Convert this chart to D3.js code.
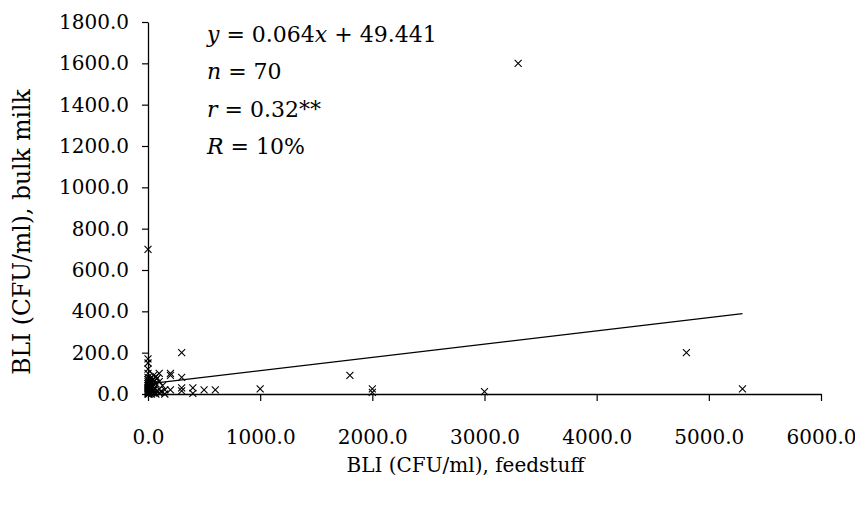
<!DOCTYPE html>
<html>
<head>
<meta charset="utf-8">
<script src="https://cdn.jsdelivr.net/npm/d3@7"></script>
<style>
  body { margin: 0; background: #fff; }
  svg text { font-family: "DejaVu Serif", serif; fill: #000; }
</style>
</head>
<body>
<svg id="drawing_region"></svg>
<script>
// BLI in feedstuff (x) vs BLI in bulk milk (y), CFU/ml
var feedX = [
  3300, 0, 4800, 5300, 1800, 2000, 2000, 3000, 1000, 600, 500, 400, 400, 300, 300, 300, 300,
  200, 200, 200, 100, 50, 0, 0, 0, 0, 0,
  0, 0, 0, 0, 0, 0, 0, 0, 0, 0, 0,
  5, 5, 10, 10, 10, 15, 20, 20, 20, 25, 30, 30, 30, 40, 40, 50, 50, 50, 60, 60, 70, 70,
  80, 80, 100, 100, 100, 120, 130, 150, 150, 70
];
var milkY = [
  1600, 700, 200, 25, 90, 25, 8, 12, 25, 20, 20, 30, 3, 30, 15, 80, 200,
  20, 100, 90, 100, 90, 170, 150, 120, 100, 80,
  0, 5, 10, 15, 20, 25, 30, 40, 50, 60, 70,
  0, 35, 10, 45, 65, 5, 20, 55, 75, 30, 0, 40, 60, 10, 70, 20, 45, 5, 30, 65, 0, 50,
  15, 75, 5, 25, 60, 10, 40, 0, 20, 85
];
var xTicks = [0, 1000, 2000, 3000, 4000, 5000, 6000];
var yTicks = [0, 200, 400, 600, 800, 1000, 1200, 1400, 1600, 1800];
var slope = 0.064, intercept = 49.441;
var statLines = [
  [["y", true], [" = 0.064", false], ["x", true], [" + 49.441", false]],
  [["n", true], [" = 70", false]],
  [["r", true], [" = 0.32**", false]],
  [["R", true], [" = 10%", false]]
];

var config = {
  width: 855, height: 508,
  margin: {top: 22, right: 34, bottom: 114, left: 148}
};

var svg = d3.select('#drawing_region')
    .attr('width', config.width)
    .attr('height', config.height);
var iw = config.width - config.margin.left - config.margin.right;
var ih = config.height - config.margin.top - config.margin.bottom;
var chart = svg.append('g')
    .attr('transform', `translate(${config.margin.left}, ${config.margin.top})`);

var xscale = d3.scaleLinear().domain([0, 6000]).range([0, iw]);
var yscale = d3.scaleLinear().domain([0, 1800]).range([ih, 0]);

var xaxis = d3.axisBottom(xscale).tickValues(xTicks).tickFormat(d3.format('.1f'))
    .tickSizeInner(7).tickSizeOuter(0).tickPadding(29);
var yaxis = d3.axisLeft(yscale).tickValues(yTicks).tickFormat(d3.format('.1f'))
    .tickSizeInner(6).tickSizeOuter(0).tickPadding(13);

var xg = chart.append('g').attr('transform', `translate(0, ${ih})`).call(xaxis);
var yg = chart.append('g').call(yaxis);
[xg, yg].forEach(g => {
  g.select('.domain').attr('stroke', '#000').attr('stroke-width', 1.3);
  g.selectAll('.tick line').attr('stroke', '#000').attr('stroke-width', 1.2);
  g.selectAll('.tick text').attr('font-family', '"DejaVu Serif", serif').attr('font-size', 20).attr('fill', '#000');
});

// trend line
var ext = d3.extent(feedX);
var line = d3.line().x(d => xscale(d)).y(d => yscale(slope * d + intercept));
chart.append('path')
    .attr('d', line(ext))
    .attr('stroke', '#000').attr('stroke-width', 1.3).attr('fill', 'none');

// markers
var s = 3.5;
chart.selectAll('.pt').data(feedX).join('path')
    .attr('class', 'pt')
    .attr('d', (d, i) => {
      var cx = xscale(d), cy = yscale(milkY[i]);
      return `M${cx - s},${cy - s}L${cx + s},${cy + s}M${cx - s},${cy + s}L${cx + s},${cy - s}`;
    })
    .attr('stroke', '#000').attr('stroke-width', 1.1).attr('fill', 'none');

// statistics
var stats = svg.append('g').attr('font-size', 22);
statLines.forEach((parts, i) => {
  var t = stats.append('text').attr('x', 207).attr('y', 42 + i * 37.3).attr('xml:space', 'preserve');
  parts.forEach(p => {
    t.append('tspan').text(p[0]).attr('font-style', p[1] ? 'italic' : 'normal');
  });
});

// axis titles
svg.append('text')
    .attr('x', config.margin.left + xscale(3000) - 19)
    .attr('y', 472)
    .attr('text-anchor', 'middle').attr('font-size', 20)
    .text('BLI (CFU/ml), feedstuff');
svg.append('text')
    .attr('transform', 'translate(30, 232) rotate(-90)')
    .attr('text-anchor', 'middle').attr('font-size', 23.5)
    .text('BLI (CFU/ml), bulk milk');
</script>
</body>
</html>
